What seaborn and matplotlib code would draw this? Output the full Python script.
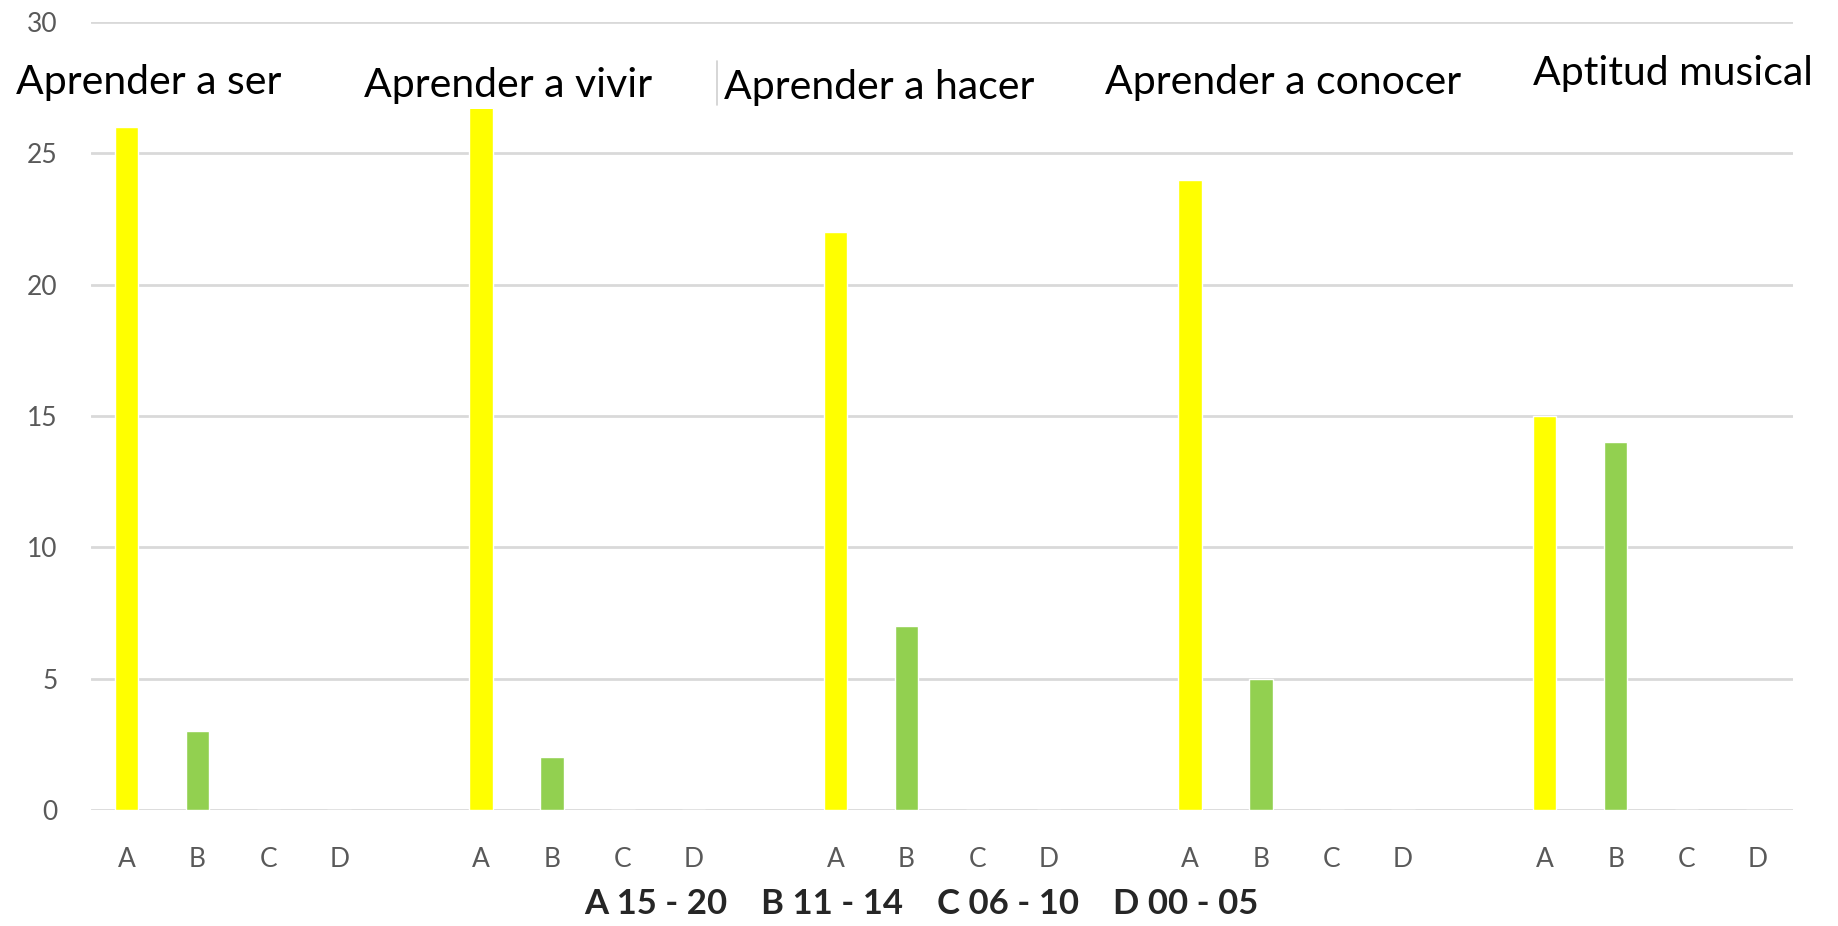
import numpy as np
import pandas as pd
import seaborn as sns
import matplotlib.pyplot as plt

# data
groups = ["Aprender a ser", "Aprender a vivir", "Aprender a hacer",
          "Aprender a conocer", "Aptitud musical"]
letters = ["A", "B", "C", "D"]
values_A = [26, 27, 22, 24, 15]
values_B = [3, 2, 7, 5, 14]
values_C = [0, 0, 0, 0, 0]
values_D = [0, 0, 0, 0, 0]
caption = "A 15 - 20    B 11 - 14    C 06 - 10    D 00 - 05"
yticks = [0, 5, 10, 15, 20, 25, 30]

colors = {"A": "#FFFF00", "B": "#92D050", "C": "#5B9BD5", "D": "#ED7D31"}

# one slot per letter, one empty slot between groups
rows = []
for g, name in enumerate(groups):
    vals = [values_A[g], values_B[g], values_C[g], values_D[g]]
    for i, letter in enumerate(letters):
        rows.append({"pos": g * 5 + i, "letter": letter, "group": name, "value": vals[i]})
df = pd.DataFrame(rows)

sns.set_style("white")
plt.rcParams['font.family'] = ['Lato', 'DejaVu Sans']

fig = plt.figure(figsize=(18.38, 9.26), dpi=100)
ax = fig.add_axes([0.0495, 0.1253, 0.926, 0.8509])

sns.barplot(data=df, x="pos", y="value", hue="letter", palette=colors,
            native_scale=True, dodge=False, width=0.33, saturation=1,
            legend=False, ax=ax)

ax.set_xlim(-0.5, 23.5)
ax.set_ylim(0, 30)
ax.set_yticks(yticks)
ax.yaxis.grid(True, color="#D9D9D9", linewidth=2)
ax.set_axisbelow(True)
for s in ax.spines.values():
    s.set_visible(False)

ax.set_xticks(df["pos"])
ax.set_xticklabels(df["letter"])
ax.tick_params(axis="x", length=0, pad=27, labelsize=19, labelcolor="#595959")
ax.tick_params(axis="y", length=0, pad=24, labelsize=19, labelcolor="#595959")
ax.set_xlabel("")
ax.set_ylabel("")

# group titles sit in white boxes over the top band
title_pos = [(0.32, 27.7), (5.38, 27.6), (10.62, 27.5), (16.31, 27.7), (21.81, 28.05)]
for name, (tx, ty) in zip(groups, title_pos):
    ax.text(tx, ty, name, ha="center", va="center", fontsize=29.5, color="black",
            bbox=dict(facecolor="white", edgecolor="none", pad=4), clip_on=False, zorder=5)

# thin box edge left over between two of the title boxes
ax.plot([8.33, 8.33], [26.85, 28.5], color="#D0D0D0", linewidth=1.2, zorder=6)

fig.text(0.501, 0.024, caption, ha="center", va="center", fontsize=25,
         fontweight="bold", color="#262626")

fig.savefig("out.png", dpi=100, facecolor="white")
